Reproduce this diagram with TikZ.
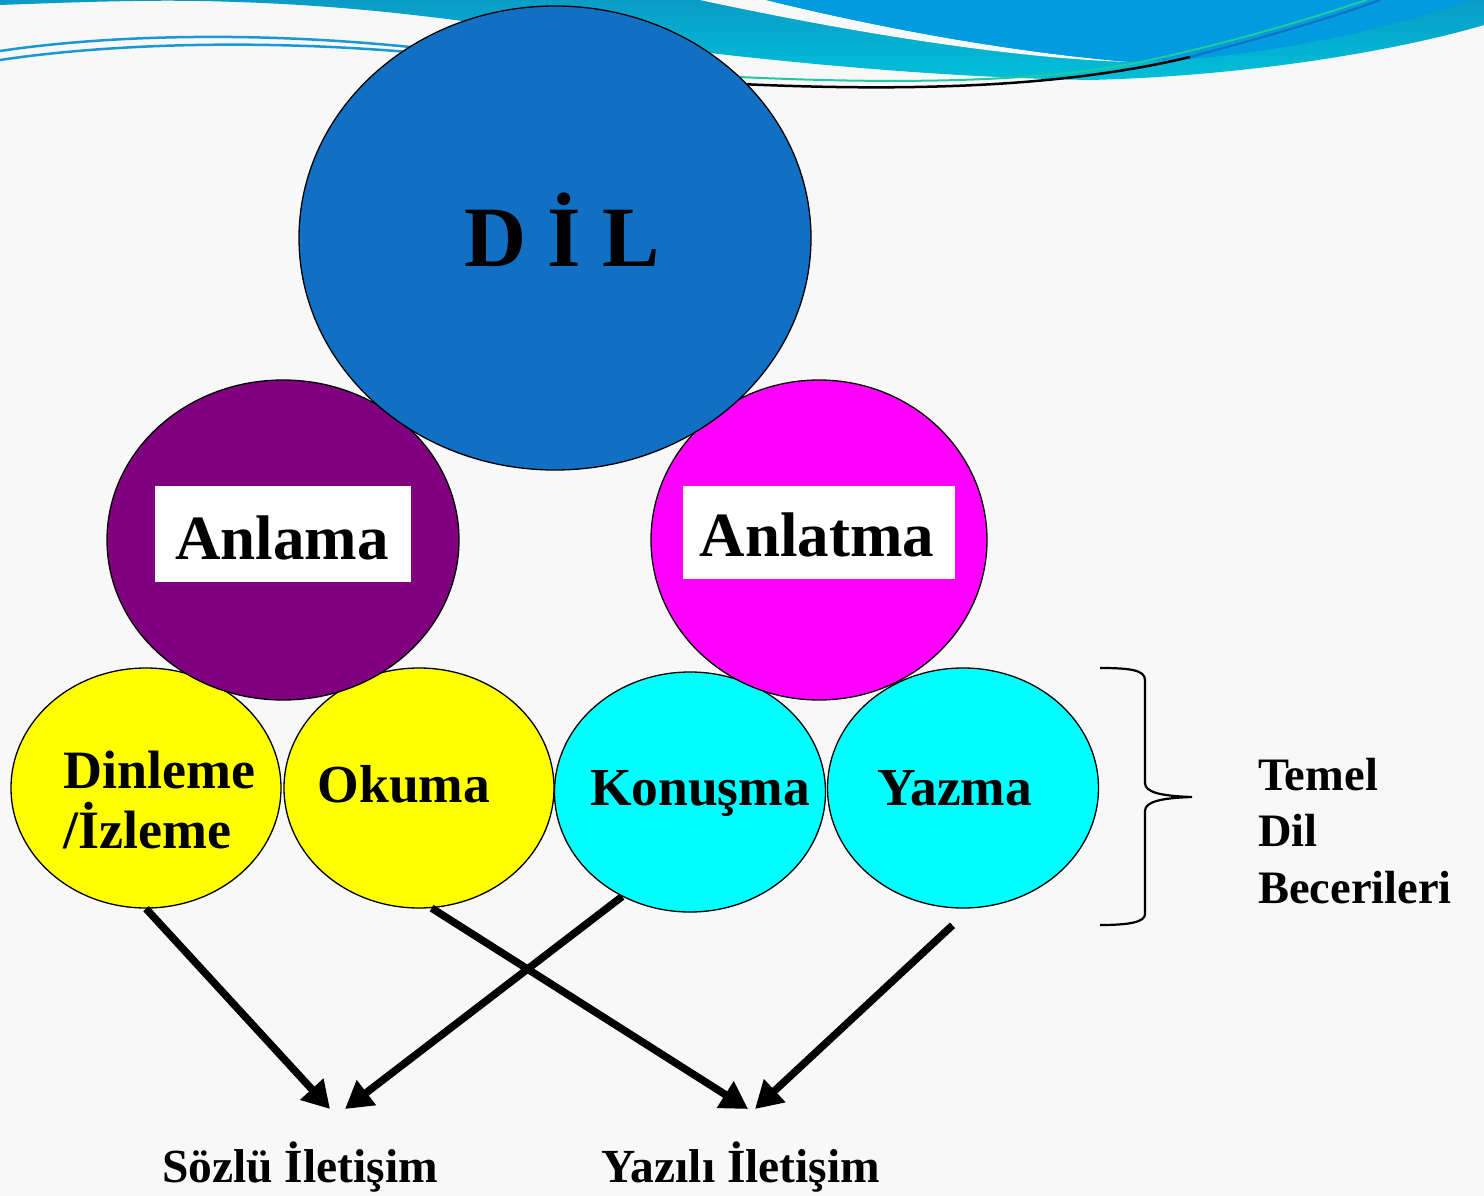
\documentclass[tikz,border=0pt]{standalone}
\usepackage{fontspec}
\setmainfont{Liberation Serif}
\usetikzlibrary{shapes.geometric,arrows.meta}
\definecolor{bgc}{HTML}{F8F8F8}
\definecolor{dilc}{HTML}{1170C4}
\definecolor{anlc}{HTML}{800080}
\definecolor{antc}{HTML}{FF00FF}
\definecolor{yelc}{HTML}{FFFF00}
\definecolor{cyac}{HTML}{00FFFF}
\definecolor{tealtop}{HTML}{0A9CC6}
\definecolor{tealbot}{HTML}{00C0D8}
\definecolor{brightb}{HTML}{019BE0}
\definecolor{thinb}{HTML}{1A98D4}
\definecolor{greenl}{HTML}{22C8A0}
\tikzset{
  circ/.style={ellipse, draw=black, line width=1.3pt, inner sep=0},
  lab/.style={font=\bfseries\fontsize{53.5}{60}\selectfont, inner sep=0, anchor=base},
  biglab/.style={font=\bfseries\fontsize{63}{70}\selectfont, inner sep=0, anchor=base},
  botlab/.style={font=\bfseries\fontsize{47.5}{56}\selectfont, inner sep=0, anchor=base},
  arr/.style={line width=7.5pt, -{Triangle[length=27pt,width=30pt]}},
  whitebox/.style={fill=white, inner sep=0},
}
\begin{document}
\begin{tikzpicture}[x=1pt,y=-1pt]
\useasboundingbox (0,0) rectangle (1484,1196);
\fill[bgc] (0,0) rectangle (1484,1196);
% top decoration
\shade[top color=tealtop, bottom color=tealbot]
  (0,0) -- (0,5) .. controls (80,2) and (140,0) .. (200,1)
  .. controls (300,3) and (380,10) .. (470,22)
  .. controls (600,40) and (850,76) .. (1090,80)
  .. controls (1250,76) and (1400,50) .. (1484,25) -- (1484,0) -- cycle;
\fill[bgc] (700,0) .. controls (830,28) and (1000,58) .. (1130,62)
  .. controls (1010,52) and (880,28) .. (766,0) -- cycle;
\fill[brightb] (766,0) .. controls (880,28) and (1010,52) .. (1130,62)
  .. controls (1250,60) and (1380,32) .. (1470,0) -- cycle;
\draw[thinb, line width=2.5pt] (0,51) .. controls (100,36) and (250,30) .. (420,48);
\draw[thinb, line width=2.5pt] (0,60) .. controls (100,45) and (250,38) .. (420,53);
\draw[greenl, line width=2pt] (700,75) .. controls (900,86) and (1050,82) .. (1150,60)
  .. controls (1250,38) and (1320,15) .. (1367,0);
\draw[black, line width=2.5pt] (700,82) .. controls (900,93) and (1060,88) .. (1190,57);
\draw[dilc, line width=2pt] (1190,57) .. controls (1280,33) and (1340,15) .. (1380,0);
% skill circles
\node[circ, fill=yelc, minimum width=270pt, minimum height=240pt] (din) at (146,788) {};
\node[circ, fill=yelc, minimum width=270pt, minimum height=240pt] (oku) at (419,788) {};
\node[circ, fill=cyac, minimum width=271pt, minimum height=240pt] (kon) at (690,792) {};
\node[circ, fill=cyac, minimum width=271pt, minimum height=240pt] (yaz) at (963,788) {};
% middle circles
\node[circ, fill=anlc, minimum width=352pt, minimum height=320pt] (anl) at (283,540) {};
\node[circ, fill=antc, minimum width=336pt, minimum height=320pt] (ant) at (819,540) {};
% DIL
\node[circ, fill=dilc, minimum width=512pt, minimum height=464pt] (dil) at (555,238) {};
\node[font=\bfseries\fontsize{86}{100}\selectfont, inner sep=0, anchor=base] (dilt) at (562,266) {D İ L};
% boxes and labels
\node[whitebox, minimum width=256pt, minimum height=96pt] (boxA) at (283,534) {};
\node[biglab] (anlt) at (282,559) {Anlama};
\node[whitebox, minimum width=272pt, minimum height=93pt] (boxB) at (819,532.5) {};
\node[biglab] (antt) at (817,556) {Anlatma};
\node[font=\bfseries\fontsize{54}{60}\selectfont, inner sep=0, anchor=north west, align=left] (dint) at (63,751) {Dinleme\\/İzleme};
\node[lab] (okut) at (404,802) {Okuma};
\node[lab] (kont) at (700,805) {Konuşma};
\node[lab] (yazt) at (955,805) {Yazma};
% brace
\draw[black, line width=2.2pt] (1100,668) .. controls (1130,668) and (1145,670) .. (1145,680)
  -- (1145,783) .. controls (1145,792) and (1160,796) .. (1192,797)
  .. controls (1160,798) and (1145,802) .. (1145,811)
  -- (1145,914) .. controls (1145,922) and (1130,925) .. (1100,925);
\node[font=\bfseries\fontsize{46.5}{56.5}\selectfont, inner sep=0, anchor=north west, align=left] (temel) at (1258,758) {Temel\\Dil\\Becerileri};
% bottom labels
\node[botlab] (soz) at (300,1182) {Sözlü İletişim};
\node[botlab] (yzl) at (741,1182) {Yazılı İletişim};
\coordinate (s1) at (330,1109);
\coordinate (s2) at (345,1109);
\coordinate (y1) at (748,1109);
\coordinate (y2) at (755,1109);
% arrows
\draw[arr] (din.south) -- (s1);
\draw[arr] (kon.-123) -- (s2);
\draw[arr] (oku.-84) -- (y1);
\draw[arr] ([yshift=-17pt]yaz.-95) -- (y2);
\end{tikzpicture}
\end{document}
